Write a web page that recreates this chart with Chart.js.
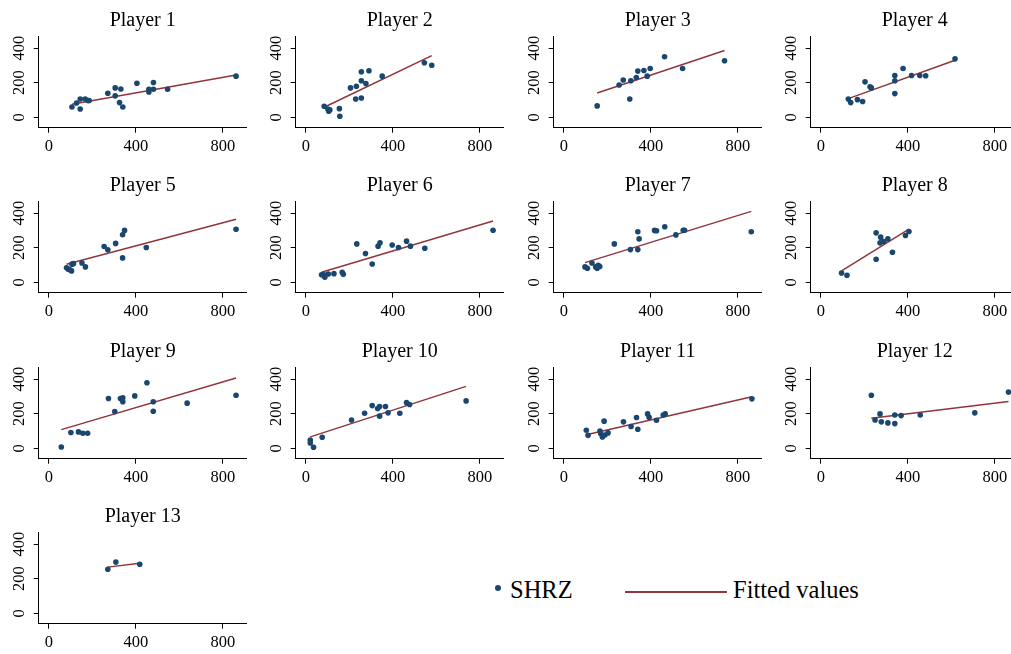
<!DOCTYPE html>
<html>
<head>
<meta charset="utf-8">
<script src="https://cdn.jsdelivr.net/npm/chart.js@4.4.1/dist/chart.umd.min.js"></script>
<style>
  body { margin: 0; background: #fff; width: 1011px; height: 654px; overflow: hidden; position: relative; font-family: "Liberation Serif", serif; }
  canvas { position: absolute; }
  .leg { position: absolute; font-size: 24.5px; color: #000; line-height: 1; }
  .dot { position: absolute; width: 6px; height: 6px; border-radius: 50%; background: #1a476f; }
  .ln { position: absolute; height: 2px; background: #90353b; }
</style>
</head>
<body>
<div class="dot" style="left:495px;top:585px"></div>
<div class="leg" style="left:510px;top:578px">SHRZ</div>
<div class="ln" style="left:625px;top:591px;width:102px"></div>
<div class="leg" style="left:733px;top:578px">Fitted values</div>
<script>
// values, one entry per player
const players = ['Player 1', 'Player 2', 'Player 3', 'Player 4', 'Player 5', 'Player 6', 'Player 7',
                 'Player 8', 'Player 9', 'Player 10', 'Player 11', 'Player 12', 'Player 13'];

const shrzX = [
  [106,127,144,144,167,179,185,271,305,305,331,325,340,405,460,460,481,481,546,861],
  [84,101,105,110,154,156,205,232,229,255,255,255,276,290,351,545,579],
  [153,254,273,303,308,333,340,368,383,397,463,546,739],
  [126,137,168,192,203,226,232,340,340,340,378,417,455,482,617],
  [81,89,97,104,106,113,152,168,254,271,307,339,348,339,448,861],
  [72,83,87,103,129,167,172,234,274,305,332,341,397,426,463,481,547,861],
  [97,108,129,146,153,158,165,232,306,340,340,346,417,426,464,515,549,555,862],
  [95,120,254,254,275,272,289,308,329,389,405],
  [57,101,136,156,178,274,303,329,340,340,395,451,480,480,636,861],
  [20,20,35,75,210,270,305,330,339,339,366,378,432,463,477,737],
  [103,111,166,169,177,185,189,203,274,309,334,340,385,392,426,457,466,865],
  [232,249,272,278,308,340,340,369,457,708,863],
  [271,308,418]
];
const shrzY = [
  [60,83,106,48,106,97,97,139,170,124,164,85,60,197,147,162,201,162,162,238],
  [64,48,35,43,50,6,170,180,106,263,211,112,195,269,238,315,301],
  [66,187,216,106,211,230,267,271,238,282,350,282,327],
  [106,85,102,91,205,176,170,242,211,137,282,242,242,240,338],
  [84,76,72,66,105,108,112,89,207,188,225,275,300,141,201,307],
  [44,44,29,48,50,58,46,222,166,106,209,228,216,201,238,209,197,301],
  [89,81,112,89,81,99,91,222,189,189,292,251,300,298,321,274,301,301,292],
  [54,41,286,133,261,228,236,251,174,271,294],
  [8,91,95,87,87,288,213,288,292,269,303,379,269,214,261,307],
  [48,31,6,64,164,203,247,230,242,186,242,205,203,264,253,274],
  [104,75,100,85,66,157,77,89,153,126,178,110,199,180,162,193,199,286],
  [307,164,199,153,147,193,143,189,193,205,325],
  [255,296,284]
];
// fitted line end points [x start, x end] and [y start, y end]
const fitX = [[106,861],[84,579],[153,739],[126,617],[81,861],[72,861],[97,862],[95,405],[57,861],[20,737],[103,865],[232,863],[271,418]];
const fitY = [[75,245],[58,357],[141,386],[108,330],[105,364],[58,354],[114,410],[66,307],[108,406],[66,358],[79,298],[174,271],[267,290]];

const xTicks = [0, 400, 800];
const yTicks = [0, 200, 400];

const navy = '#1a476f';
const maroon = '#90353b';
const serif = '"Liberation Serif", serif';

players.forEach((name, i) => {
    const col = i % 4, row = Math.floor(i / 4);
    const cv = document.createElement('canvas');
    cv.width = 257; cv.height = 165;
    cv.style.left = (col * 257.4) + 'px';
    cv.style.top = (row * 165.3) + 'px';
    document.body.appendChild(cv);

    const pts = shrzX[i].map((x, k) => ({ x: x, y: shrzY[i][k] }));
    const fit = fitX[i].map((x, k) => ({ x: x, y: fitY[i][k] }));

    new Chart(cv, {
        type: 'scatter',
        data: {
            datasets: [
                { label: 'SHRZ', data: pts, pointRadius: 2.8, pointBackgroundColor: navy, pointBorderWidth: 0, showLine: false },
                { label: 'Fitted values', data: fit, showLine: true, borderColor: maroon, borderWidth: 1.5, pointRadius: 0 }
            ]
        },
        options: {
            responsive: false,
            animation: false,
            layout: { padding: { left: 0, right: 10.3, top: 0, bottom: 0 } },
            plugins: {
                legend: { display: false },
                tooltip: { enabled: false },
                title: {
                    display: true, text: name, color: '#000', fullSize: false,
                    font: { family: serif, size: 20, weight: 'normal' },
                    padding: { top: 8.4, bottom: 3.6 }
                }
            },
            scales: {
                x: {
                    type: 'linear', min: -47, max: 910,
                    afterBuildTicks: s => { s.ticks = xTicks.map(v => ({ value: v })); },
                    afterFit: s => { s.height = 37.3; },
                    grid: { drawOnChartArea: false, drawTicks: true, tickLength: 5, color: '#000' },
                    border: { display: true, color: '#000', width: 1 },
                    ticks: { color: '#000', font: { family: serif, size: 16.5 }, padding: 4, maxRotation: 0 }
                },
                y: {
                    type: 'linear', min: -60, max: 470,
                    afterBuildTicks: s => { s.ticks = yTicks.map(v => ({ value: v })); },
                    afterFit: s => { s.width = 38.7; },
                    grid: { drawOnChartArea: false, drawTicks: true, tickLength: 5, color: '#000' },
                    border: { display: true, color: '#000', width: 1 },
                    ticks: { color: '#000', font: { family: serif, size: 16.5 }, padding: 1.5,
                             minRotation: 90, maxRotation: 90, crossAlign: 'center' }
                }
            }
        }
    });
});
</script>
</body>
</html>
